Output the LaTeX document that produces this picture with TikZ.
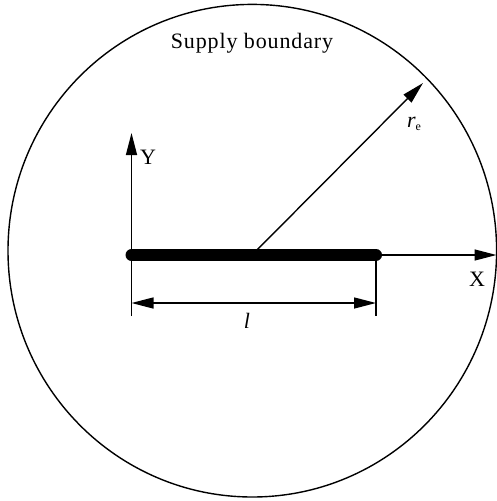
\documentclass[tikz,border=0pt]{standalone}
\usepackage{fontspec}
\setmainfont{Liberation Serif}
\usetikzlibrary{arrows.meta}
\begin{document}
\begin{tikzpicture}[x=1pt,y=-1pt,
  thin line/.style={line width=1.4pt},
  tip/.style={-{Triangle[length=22pt,width=11pt]}},
  lbl/.style={font=\fontsize{22}{24}\selectfont, inner sep=0pt}]
\useasboundingbox (0,0) rectangle (497,501);
% boundary
\draw[thin line] (252.3,250.7) ellipse [x radius=244.3, y radius=246.3];
\node[lbl] (sb) at (252,43) {\addfontfeature{LetterSpace=4}Supply boundary};
% coordinates
\coordinate (A) at (131.5,255);
\coordinate (B) at (376,255);
\coordinate (O) at (252,255);
\coordinate (Ytop) at (131.5,133);
\coordinate (Ybot) at (131.5,316);
\coordinate (Xend) at (496.5,255);
\coordinate (Bbot) at (376,316);
\coordinate (Dl) at (131.5,303);
\coordinate (Dr) at (376,303);
\coordinate (R) at (423,83);
% axes
\draw[thin line, tip] (Ybot) -- (Ytop);
\draw[thin line, tip] (B) -- (Xend);
\draw[thin line] (B) -- (Bbot);
% dimension
\draw[thin line, {Triangle[length=22pt,width=11pt]}-{Triangle[length=22pt,width=11pt]}] (Dl) -- (Dr);
% radius
\draw[thin line, tip] (O) -- (R);
% well
\draw[line width=12pt, line cap=round] (A) -- (B);
% labels
\node[lbl] (ylab) at (148,157) {Y};
\node[lbl] (xlab) at (477,279) {X};
\node[lbl] (llab) at (247,321) {\textit{l}};
\node[lbl] (rlab) at (414,124) {\textit{r}\raisebox{-0.35ex}{\fontsize{12}{12}\selectfont e}};
\end{tikzpicture}
\end{document}
